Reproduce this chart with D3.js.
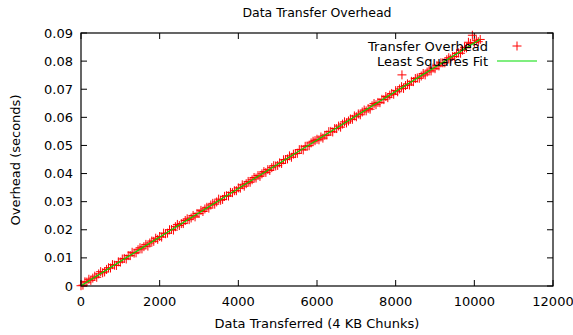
<!DOCTYPE html>
<html>
<head>
<meta charset="utf-8">
<script src="https://cdn.jsdelivr.net/npm/d3@7"></script>
<style>
  body { margin: 0; background: #fff; }
  text { font-family: 'DejaVu Sans', sans-serif; fill: #000; }
</style>
</head>
<body>
<div id="chart"></div>
<script>
// chunks transferred
const chunks = [
  0, 50, 100, 150, 200, 250, 300, 350, 400, 450, 500, 550, 600, 650, 700, 750, 800, 850, 900, 950,
  1000, 1050, 1100, 1150, 1200, 1250, 1300, 1350, 1400, 1450, 1500, 1550, 1600, 1650, 1700, 1750, 1800, 1850, 1900, 1950,
  2000, 2050, 2100, 2150, 2200, 2250, 2300, 2350, 2400, 2450, 2500, 2550, 2600, 2650, 2700, 2750, 2800, 2850, 2900, 2950,
  3000, 3050, 3100, 3150, 3200, 3250, 3300, 3350, 3400, 3450, 3500, 3550, 3600, 3650, 3700, 3750, 3800, 3850, 3900, 3950,
  4000, 4050, 4100, 4150, 4200, 4250, 4300, 4350, 4400, 4450, 4500, 4550, 4600, 4650, 4700, 4750, 4800, 4850, 4900, 4950,
  5000, 5050, 5100, 5150, 5200, 5250, 5300, 5350, 5400, 5450, 5500, 5550, 5600, 5650, 5700, 5750, 5800, 5850, 5900, 5950,
  6000, 6050, 6100, 6150, 6200, 6250, 6300, 6350, 6400, 6450, 6500, 6550, 6600, 6650, 6700, 6750, 6800, 6850, 6900, 6950,
  7000, 7050, 7100, 7150, 7200, 7250, 7300, 7350, 7400, 7450, 7500, 7550, 7600, 7650, 7700, 7750, 7800, 7850, 7900, 7950,
  8000, 8050, 8100, 8150, 8160, 8200, 8250, 8300, 8350, 8400, 8450, 8500, 8550, 8600, 8650, 8700, 8750, 8800, 8850, 8900, 8950,
  9000, 9050, 9100, 9150, 9200, 9250, 9300, 9350, 9400, 9450, 9500, 9550, 9600, 9650, 9700, 9750, 9800, 9850, 9900, 9950,
  10000, 10050, 10100, 10150];
// overhead in seconds
const overhead = [
  0.0001, 0.0003, 0.0015, 0.0014, 0.0024, 0.0020, 0.0028, 0.0035, 0.0031, 0.0043, 0.0051, 0.0047, 0.0050, 0.0059, 0.0065, 0.0064, 0.0076, 0.0074, 0.0073, 0.0086,
  0.0085, 0.0096, 0.0098, 0.0096, 0.0108, 0.0108, 0.0120, 0.0117, 0.0118, 0.0129, 0.0136, 0.0132, 0.0140, 0.0148, 0.0142, 0.0153, 0.0160, 0.0159, 0.0170, 0.0166,
  0.0176, 0.0174, 0.0188, 0.0186, 0.0188, 0.0200, 0.0201, 0.0199, 0.0211, 0.0219, 0.0215, 0.0222, 0.0222, 0.0233, 0.0239, 0.0236, 0.0242, 0.0251, 0.0246, 0.0258,
  0.0258, 0.0269, 0.0265, 0.0274, 0.0280, 0.0277, 0.0288, 0.0294, 0.0291, 0.0299, 0.0309, 0.0305, 0.0308, 0.0319, 0.0321, 0.0320, 0.0333, 0.0332, 0.0339, 0.0339,
  0.0349, 0.0348, 0.0360, 0.0355, 0.0364, 0.0372, 0.0369, 0.0378, 0.0386, 0.0384, 0.0393, 0.0390, 0.0399, 0.0407, 0.0404, 0.0414, 0.0411, 0.0421, 0.0428, 0.0427,
  0.0429, 0.0438, 0.0436, 0.0449, 0.0450, 0.0452, 0.0463, 0.0458, 0.0469, 0.0471, 0.0472, 0.0485, 0.0486, 0.0484, 0.0497, 0.0498, 0.0499, 0.0509, 0.0515, 0.0517,
  0.0522, 0.0520, 0.0530, 0.0526, 0.0536, 0.0537, 0.0549, 0.0550, 0.0548, 0.0560, 0.0560, 0.0569, 0.0565, 0.0576, 0.0584, 0.0580, 0.0587, 0.0594, 0.0593, 0.0605,
  0.0602, 0.0612, 0.0609, 0.0619, 0.0626, 0.0623, 0.0631, 0.0629, 0.0641, 0.0649, 0.0645, 0.0653, 0.0652, 0.0664, 0.0663, 0.0674, 0.0670, 0.0679, 0.0685, 0.0682,
  0.0695, 0.0691, 0.0701, 0.0709, 0.0751, 0.0703, 0.0713, 0.0719, 0.0715, 0.0728, 0.0727, 0.0738, 0.0740, 0.0739, 0.0747, 0.0756, 0.0751, 0.0761, 0.0768, 0.0765, 0.0775,
  0.0773, 0.0784, 0.0783, 0.0794, 0.0794, 0.0794, 0.0805, 0.0812, 0.0808, 0.0817, 0.0816, 0.0827, 0.0829, 0.0828, 0.0839, 0.0849, 0.0847, 0.0867, 0.0863, 0.0892,
  0.0866, 0.0874, 0.0869, 0.0877];
const xTicks = [0, 2000, 4000, 6000, 8000, 10000, 12000];
const yTicks = [0, 0.01, 0.02, 0.03, 0.04, 0.05, 0.06, 0.07, 0.08, 0.09];
const seriesNames = ['Transfer Overhead', 'Least Squares Fit'];

const W = 573, H = 335;
const margin = { top: 33, right: 20, bottom: 49, left: 81 };
const width = W - margin.left - margin.right;
const height = H - margin.top - margin.bottom;

const data = chunks.map((c, i) => ({ x: c, y: overhead[i] }));

// least squares fit from the data
const mx = d3.mean(data, d => d.x);
const my = d3.mean(data, d => d.y);
const slope = d3.sum(data, d => (d.x - mx) * (d.y - my)) / d3.sum(data, d => (d.x - mx) * (d.x - mx));
const intercept = my - slope * mx;
const fit = d3.extent(chunks).map(v => ({ x: v, y: intercept + slope * v }));

const svg = d3.select('#chart').append('svg')
  .attr('width', W)
  .attr('height', H);
const g = svg.append('g')
  .attr('transform', 'translate(' + margin.left + ',' + margin.top + ')');

const x = d3.scaleLinear().domain([0, 12000]).range([0, width]);
const y = d3.scaleLinear().domain([0, 0.09]).range([height, 0]);

// ticks, mirrored and pointing inward
const tickLen = 6;
const tg = g.append('g').attr('stroke', '#000').attr('stroke-width', 1);
xTicks.forEach(t => {
  tg.append('line').attr('x1', x(t)).attr('x2', x(t)).attr('y1', height).attr('y2', height - tickLen);
  tg.append('line').attr('x1', x(t)).attr('x2', x(t)).attr('y1', 0).attr('y2', tickLen);
});
yTicks.forEach(t => {
  tg.append('line').attr('x1', 0).attr('x2', tickLen).attr('y1', y(t)).attr('y2', y(t));
  tg.append('line').attr('x1', width).attr('x2', width - tickLen).attr('y1', y(t)).attr('y2', y(t));
});

g.selectAll('.xl').data(xTicks).enter().append('text')
  .attr('x', d => x(d))
  .attr('y', height + 20)
  .attr('text-anchor', 'middle')
  .style('font-size', '13px')
  .text(d => d);
g.selectAll('.yl').data(yTicks).enter().append('text')
  .attr('x', -8)
  .attr('y', d => y(d) + 4.5)
  .attr('text-anchor', 'end')
  .style('font-size', '13px')
  .text(d => d === 0 ? '0' : d3.format('.2f')(d));

// points
const red = '#ff0000';
const ps = 4.5;
const pts = g.append('g').attr('stroke', red).attr('stroke-width', 1);
data.forEach(d => {
  pts.append('path').attr('d', `M${x(d.x) - ps},${y(d.y)}H${x(d.x) + ps}M${x(d.x)},${y(d.y) - ps}V${y(d.y) + ps}`);
});

// fit line
const line = d3.line().x(d => x(d.x)).y(d => y(d.y));
g.append('path').datum(fit)
  .attr('d', line)
  .attr('fill', 'none')
  .attr('stroke', '#00dd00')
  .attr('stroke-width', 1.2);

// border
g.append('rect')
  .attr('width', width).attr('height', height)
  .attr('fill', 'none').attr('stroke', '#000').attr('stroke-width', 1.2);

// legend
const lx = 407, ly = 13;
seriesNames.forEach((n, i) => {
  g.append('text')
    .attr('x', lx).attr('y', ly + i * 15 + 4.5)
    .attr('text-anchor', 'end')
    .style('font-size', '13px')
    .text(n);
});
const cx = lx + 29;
g.append('path').attr('stroke', red).attr('stroke-width', 1)
  .attr('d', `M${cx - ps},${ly}H${cx + ps}M${cx},${ly - ps}V${ly + ps}`);
g.append('line').attr('x1', lx + 9).attr('x2', lx + 49).attr('y1', ly + 15).attr('y2', ly + 15)
  .attr('stroke', '#00dd00').attr('stroke-width', 1.2);

// titles
svg.append('text').attr('x', 317).attr('y', 16.5).attr('text-anchor', 'middle')
  .style('font-size', '12.5px').text('Data Transfer Overhead');
svg.append('text').attr('x', 317).attr('y', 328).attr('text-anchor', 'middle')
  .style('font-size', '13px').text('Data Transferred (4 KB Chunks)');
svg.append('text').attr('transform', 'translate(20,160) rotate(-90)').attr('text-anchor', 'middle')
  .style('font-size', '13px').text('Overhead (seconds)');
</script>
</body>
</html>
